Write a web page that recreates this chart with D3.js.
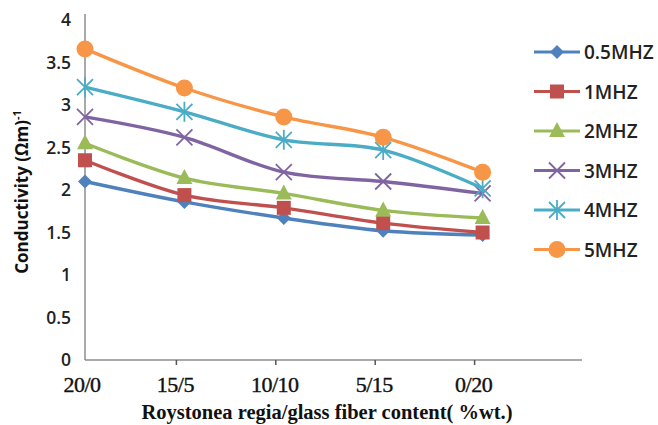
<!DOCTYPE html>
<html><head><meta charset="utf-8">
<script src="https://cdn.jsdelivr.net/npm/d3@7"></script>
<style>body{margin:0;background:#fff}</style>
</head><body>
<svg id="c" width="658" height="425"></svg>
<script>
const categories = ["20/0","15/5","10/10","5/15","0/20"];
const seriesNames = ["0.5MHZ","1MHZ","2MHZ","3MHZ","4MHZ","5MHZ"];
const v05 = [2.10,1.86,1.67,1.52,1.47];
const v1  = [2.35,1.94,1.79,1.61,1.50];
const v2  = [2.55,2.14,1.96,1.76,1.67];
const v3  = [2.86,2.62,2.21,2.10,1.96];
const v4  = [3.21,2.92,2.59,2.47,2.02];
const v5  = [3.66,3.20,2.86,2.62,2.21];
const yTicks = [0,0.5,1,1.5,2,2.5,3,3.5,4];
const colors = ["#4F81BD","#C0504D","#9BBB59","#8064A2","#4BACC6","#F79646"];
const markers = ["diamond","square","triangle","x","star","circle"];
const allValues = [v05,v1,v2,v3,v4,v5];

const svg = d3.select("#c");
const x = d3.scalePoint().domain([...categories,"_"]).range([85,582]);
const y = d3.scaleLinear().domain([0,4]).range([360,20]);

// axes
svg.append("line").attr("x1",85).attr("x2",85).attr("y1",y(4)-6).attr("y2",y(0)).attr("stroke","#8c8c8c").attr("stroke-width",1.5);
svg.append("line").attr("x1",85).attr("x2",582).attr("y1",y(0)).attr("y2",y(0)).attr("stroke","#8c8c8c").attr("stroke-width",1.5);
categories.slice(1).forEach(c=>{
  svg.append("line").attr("x1",x(c)-8).attr("x2",x(c)-8).attr("y1",y(0)).attr("y2",y(0)+5).attr("stroke","#555").attr("stroke-width",1.5);
});
svg.selectAll(".yt").data(yTicks).enter().append("text")
  .attr("x",71).attr("y",d=>y(d)+6).attr("text-anchor","end")
  .attr("font-family","Open Sans, sans-serif").attr("font-weight","600").attr("font-size",17.5).attr("fill","#222")
  .text(d=>d);
svg.selectAll(".xt").data(categories).enter().append("text")
  .attr("x",(d,i)=>x(d)-(i===0?3:9)).attr("y",392).attr("text-anchor","middle")
  .attr("font-family","Liberation Serif, serif").attr("font-size",22).attr("letter-spacing",-0.5)
  .attr("fill","#111").attr("stroke","#111").attr("stroke-width",0.4)
  .text(d=>d);
svg.append("text").attr("x",327).attr("y",419).attr("text-anchor","middle")
  .attr("font-family","Liberation Serif, serif").attr("font-weight","bold").attr("font-size",20.5).attr("fill","#111")
  .text("Roystonea regia/glass fiber content( %wt.)");
const yt = svg.append("text").attr("transform","translate(28,192) rotate(-90)").attr("text-anchor","middle")
  .attr("font-family","Open Sans, sans-serif").attr("font-weight","bold").attr("font-size",17).attr("fill","#111");
yt.append("tspan").text("Conductivity (Ωm)");
yt.append("tspan").attr("dy",-7).attr("font-size",11).text("-1");

function drawMarker(g, type, color){
  if(type==="diamond") g.append("path").attr("d","M0,-7L7,0L0,7L-7,0Z").attr("fill",color);
  else if(type==="square") g.append("rect").attr("x",-7).attr("y",-7).attr("width",14).attr("height",14).attr("fill",color);
  else if(type==="triangle") g.append("path").attr("d","M0,-9L8,6L-8,6Z").attr("fill",color);
  else if(type==="x") g.append("path").attr("d","M-8,-8L8,8M-8,8L8,-8").attr("stroke",color).attr("stroke-width",1.8);
  else if(type==="star") g.append("path").attr("d","M-8,-8L8,8M-8,8L8,-8M0,-10L0,10").attr("stroke",color).attr("stroke-width",1.8);
  else if(type==="circle") g.append("circle").attr("r",8.5).attr("fill",color);
}

const line = d3.line().x((d,i)=>x(categories[i])).y(d=>y(d)).curve(d3.curveCatmullRom.alpha(0.5));
allValues.forEach((vals,s)=>{
  svg.append("path").attr("d",line(vals)).attr("fill","none").attr("stroke",colors[s]).attr("stroke-width",3.4);
  vals.forEach((v,i)=>{
    const g = svg.append("g").attr("transform",`translate(${x(categories[i])},${y(v)})`);
    drawMarker(g, markers[s], colors[s]);
  });
});

// legend
seriesNames.forEach((n,s)=>{
  const ly = 52 + s*39.5;
  svg.append("line").attr("x1",534).attr("x2",580).attr("y1",ly).attr("y2",ly).attr("stroke",colors[s]).attr("stroke-width",3);
  const g = svg.append("g").attr("transform",`translate(557,${ly})`);
  drawMarker(g, markers[s], colors[s]);
  svg.append("text").attr("x",584).attr("y",ly+7).attr("font-family","Open Sans, sans-serif").attr("font-weight","600")
    .attr("font-size",19).attr("fill","#222").text(n);
});
</script>
</body></html>
